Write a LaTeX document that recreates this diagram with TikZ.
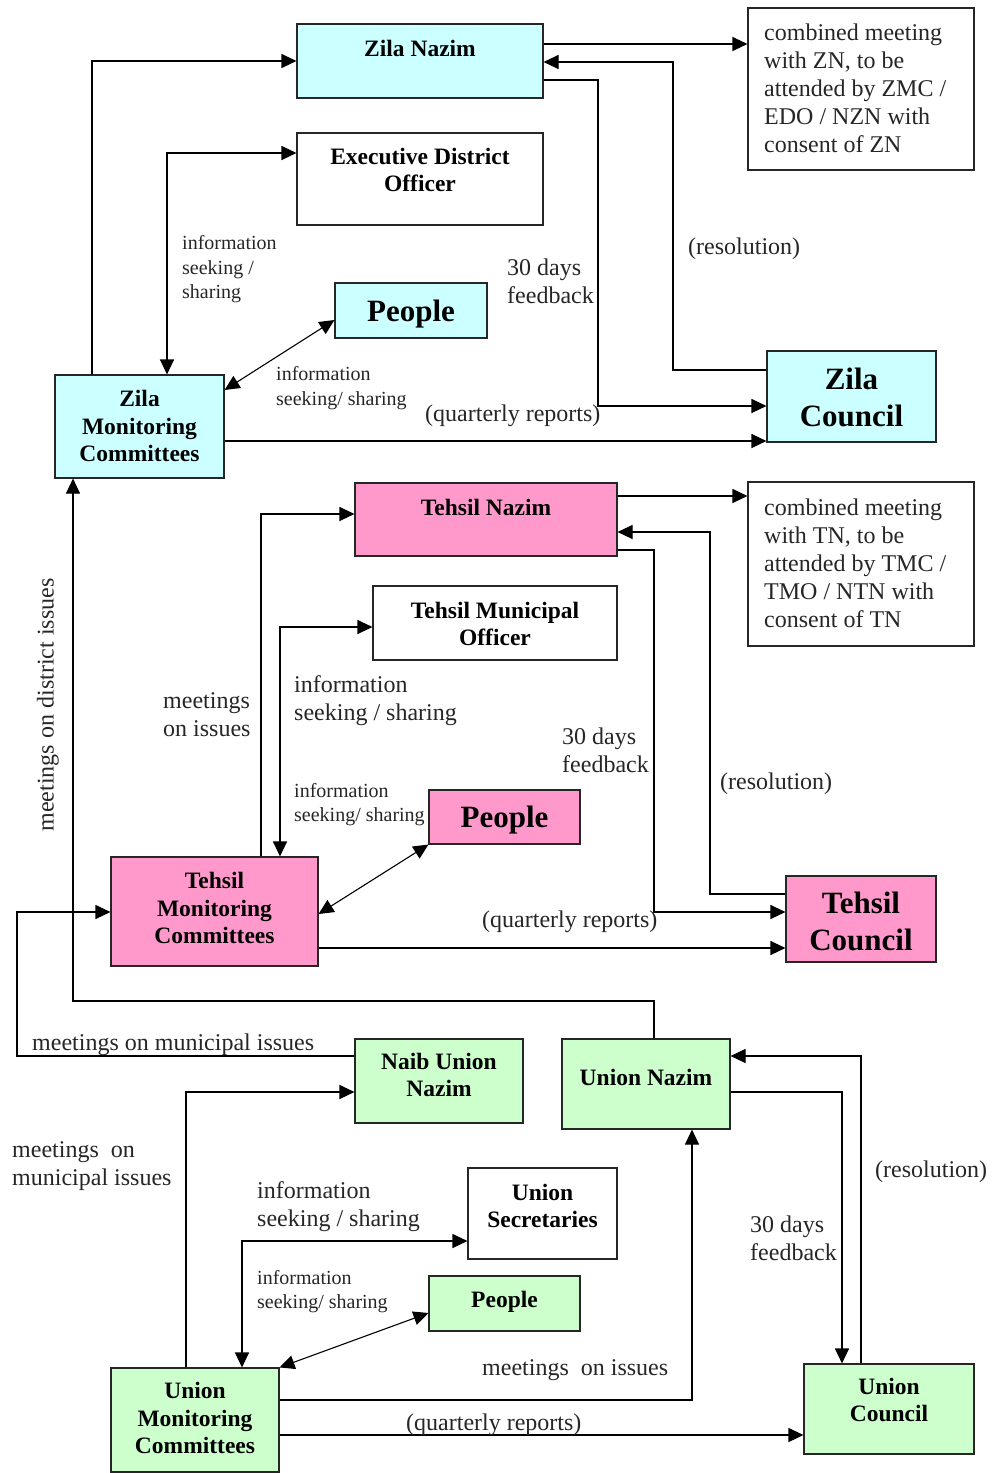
\documentclass[tikz,border=0pt]{standalone}
\usepackage{fontspec}
\setmainfont{Liberation Serif}
\usetikzlibrary{arrows.meta}
\definecolor{zcyan}{HTML}{CCFFFF}
\definecolor{tpink}{HTML}{FF99CC}
\definecolor{ugreen}{HTML}{CCFFCC}
\begin{document}
\begin{tikzpicture}[x=1pt,y=-1pt,
 box/.style={draw=black!85, line width=1.1pt, inner sep=0pt},
 bt/.style={font=\fontsize{23.5}{27.5}\selectfont\bfseries, align=center, inner sep=0pt},
 bigt/.style={font=\fontsize{31}{37}\selectfont\bfseries, align=center, inner sep=0pt},
 lbl/.style={font=\fontsize{24}{28}\selectfont, align=left, inner sep=0pt, anchor=west, text=black!85},
 sml/.style={font=\fontsize{20}{24.5}\selectfont, align=left, inner sep=0pt, anchor=west, text=black!85},
 arr/.style={line width=1.1pt, -{Triangle[length=15pt,width=14pt]}},
 arrb/.style={line width=1.1pt, {Triangle[length=15pt,width=14pt]}-{Triangle[length=15pt,width=14pt]}},
]
\useasboundingbox[fill=white] (0,0) rectangle (992,1473);

% ---------- boxes ----------
\node[box, fill=zcyan, minimum width=246pt, minimum height=74pt] (zn) at (420,61) {};
\node[box, minimum width=246pt, minimum height=92pt] (edo) at (420,179) {};
\node[box, fill=zcyan, minimum width=152pt, minimum height=55pt] (pz) at (411,310.5) {};
\node[box, fill=zcyan, minimum width=169pt, minimum height=103pt] (zmc) at (139.5,426.5) {};
\node[box, fill=zcyan, minimum width=169pt, minimum height=91pt] (zc) at (851.5,396.5) {};
\node[box, minimum width=226pt, minimum height=162pt] (cz) at (861,89) {};

\node[box, fill=tpink, minimum width=262pt, minimum height=73pt] (tn) at (486,519.5) {};
\node[box, minimum width=244pt, minimum height=74pt] (tmo) at (495,623) {};
\node[box, fill=tpink, minimum width=151pt, minimum height=54pt] (pt) at (504.5,817) {};
\node[box, fill=tpink, minimum width=207pt, minimum height=109pt] (tmc) at (214.5,911.5) {};
\node[box, fill=tpink, minimum width=150pt, minimum height=86pt] (tc) at (861,919) {};
\node[box, minimum width=226pt, minimum height=164pt] (ct) at (861,564) {};

\node[box, fill=ugreen, minimum width=168pt, minimum height=84pt] (nun) at (439,1081) {};
\node[box, fill=ugreen, minimum width=168pt, minimum height=90pt] (un) at (646,1084) {};
\node[box, minimum width=149pt, minimum height=91pt] (us) at (542.5,1213.5) {};
\node[box, fill=ugreen, minimum width=151pt, minimum height=55pt] (pu) at (504.5,1303.5) {};
\node[box, fill=ugreen, minimum width=168pt, minimum height=104pt] (umc) at (195,1420) {};
\node[box, fill=ugreen, minimum width=170pt, minimum height=90pt] (uc) at (889,1409) {};

% ---------- connectors: Zila ----------
\draw[arr] (zmc.north -| 92,0) |- (zn.west);
\draw[arrb] (zmc.north -| 167,0) |- (edo.west |- 0,153);
\draw[arrb] (zmc.east |- 0,390) -- (pz.west |- 0,320);
\draw[arr] (zmc.east |- 0,441) -- (zc.west |- 0,441);
\draw[arr] (zn.east |- 0,44) -- (cz.west |- 0,44);
\draw[arr] (zc.west |- 0,370) -| (673,62) -- (zn.east |- 0,62);
\draw[arr] (zn.east |- 0,80) -| (598,406) -- (zc.west |- 0,406);

% ---------- connectors: Tehsil ----------
\draw[arr] (tmc.north -| 261,0) |- (tn.west |- 0,514);
\draw[arrb] (tmc.north -| 280,0) |- (tmo.west |- 0,627);
\draw[arrb] (tmc.east |- 0,914) -- (pt.south west);
\draw[arr] (tmc.east |- 0,948) -- (tc.west |- 0,948);
\draw[arr] (tn.east |- 0,496) -- (ct.west |- 0,496);
\draw[arr] (tc.west |- 0,894) -| (710,532) -- (tn.east |- 0,532);
\draw[arr] (tn.east |- 0,550) -| (654,912) -- (tc.west |- 0,912);

% ---------- connectors: district / municipal ----------
\draw[arr] (un.north -| 654,0) |- (73,1001) -- (zmc.south -| 73,0);
\draw[arr] (nun.west |- 0,1056) -| (17,912) -- (tmc.west |- 0,912);

% ---------- connectors: Union ----------
\draw[arr] (umc.north -| 186,0) |- (nun.west |- 0,1092);
\draw[arrb] (umc.north -| 242,0) |- (us.west |- 0,1241);
\draw[arrb] (umc.north east) -- (pu.west |- 0,1313);
\draw[arr] (umc.east |- 0,1400) -| (un.south -| 692,0);
\draw[arr] (umc.east |- 0,1435) -- (uc.west |- 0,1435);
\draw[arr] (un.east |- 0,1092) -| (uc.north -| 842,0);
\draw[arr] (uc.north -| 861,0) |- (un.east |- 0,1056);

% ---------- box texts ----------
\node[bt] (znt) at (420,48) {Zila Nazim};
\node[bt] (edot) at (420,170) {Executive District\\Officer};
\node[bigt] (pzt) at (411,314) {People};
\node[bt] (zmct) at (139.5,426) {Zila\\Monitoring\\Committees};
\node[bigt] (zct) at (851.5,397) {Zila\\Council};
\node[lbl] (czt) at (764,88) {combined meeting\\with ZN, to be\\attended by ZMC /\\EDO / NZN with\\consent of ZN};

\node[bt] (tnt) at (486,507) {Tehsil Nazim};
\node[bt] (tmot) at (495,624) {Tehsil Municipal\\Officer};
\node[bigt] (ptt) at (504.5,820) {People};
\node[bt] (tmct) at (214.5,908) {Tehsil\\Monitoring\\Committees};
\node[bigt] (tct) at (861,921) {Tehsil\\Council};
\node[lbl] (ctt) at (764,563) {combined meeting\\with TN, to be\\attended by TMC /\\TMO / NTN with\\consent of TN};

\node[bt] (nunt) at (439,1075) {Naib Union\\Nazim};
\node[bt] (unt) at (646,1077) {Union Nazim};
\node[bt] (ust) at (542.5,1206) {Union\\Secretaries};
\node[bt] (put) at (504.5,1302) {People};
\node[bt] (umct) at (195,1418) {Union\\Monitoring\\Committees};
\node[bt] (uct) at (889,1400) {Union\\Council};

% ---------- connector labels ----------
\node[sml] (l1) at (182,269.5) {information\\seeking /\\sharing};
\node[sml] (l2) at (276,388) {information\\seeking/ sharing};
\node[lbl] (l3) at (507,281) {30 days\\feedback};
\node[lbl] (l4) at (688,248.5) {(resolution)};
\node[lbl] (l5) at (425,415.5) {(quarterly reports)};

\node[lbl] (l6) at (163,715) {meetings\\on issues};
\node[lbl] (l7) at (294,700.5) {information\\seeking / sharing};
\node[sml] (l8) at (294,804.5) {information\\seeking/ sharing};
\node[lbl] (l9) at (562,750) {30 days\\feedback};
\node[lbl] (l10) at (720,783.5) {(resolution)};
\node[lbl] (l11) at (482,921.5) {(quarterly reports)};
\node[lbl, anchor=center, rotate=90] (l12) at (48,705) {meetings on district issues};

\node[lbl] (l13) at (32,1044.5) {meetings on municipal issues};
\node[lbl] (l14) at (12,1166.5) {meetings\enspace on\\municipal issues};
\node[lbl] (l15) at (257,1207) {information\\seeking / sharing};
\node[sml] (l16) at (257,1291.5) {information\\seeking/ sharing};
\node[lbl] (l17) at (482,1370.5) {meetings\enspace on issues};
\node[lbl] (l18) at (406,1424.5) {(quarterly reports)};
\node[lbl] (l19) at (750,1238) {30 days\\feedback};
\node[lbl] (l20) at (875,1171.5) {(resolution)};
\end{tikzpicture}
\end{document}
